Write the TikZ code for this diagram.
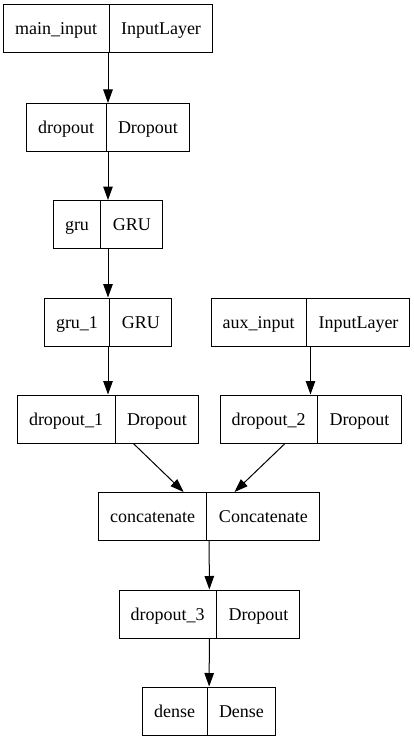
\documentclass[tikz,border=0pt]{standalone}
\usepackage{fontspec}
\setmainfont{Liberation Serif}
\usetikzlibrary{shapes.multipart,arrows.meta}
\newcommand{\lstrut}{\rule[-4pt]{0pt}{20pt}}
\newcommand{\lyr}[2]{\lstrut#1\nodepart{two}\lstrut#2}
\begin{document}
\begin{tikzpicture}[x=1pt,y=-1pt,
  layer/.style={draw=black, line width=1pt, rectangle split, rectangle split horizontal,
    rectangle split parts=2, inner xsep=11.5pt, inner ysep=14pt,
    font=\fontsize{18}{20}\selectfont},
  edge/.style={draw=black, line width=1pt, -{Triangle[length=13.5pt,width=9.5pt]}}]
\useasboundingbox (0,0) rectangle (413,741);
\node[layer] (mi) at (108,29) {\lyr{main\_input}{InputLayer}};
\node[layer] (d0) at (108,127.5) {\lyr{dropout}{Dropout}};
\node[layer] (g0) at (108,224.5) {\lyr{gru}{GRU}};
\node[layer] (g1) at (108,322) {\lyr{gru\_1}{GRU}};
\node[layer] (ai) at (310.5,322) {\lyr{aux\_input}{InputLayer}};
\node[layer] (d1) at (108,419) {\lyr{dropout\_1}{Dropout}};
\node[layer] (d2) at (310.5,419) {\lyr{dropout\_2}{Dropout}};
\node[layer] (cc) at (209,516.5) {\lyr{concatenate}{Concatenate}};
\node[layer] (d3) at (209.5,614) {\lyr{dropout\_3}{Dropout}};
\node[layer] (de) at (209,711) {\lyr{dense}{Dense}};
\draw[edge] (mi) -- (d0);
\draw[edge] (d0) -- (g0);
\draw[edge] (g0) -- (g1);
\draw[edge] (g1) -- (d1);
\draw[edge] (ai) -- (d2);
\draw[edge] (d1) -- (cc);
\draw[edge] (d2) -- (cc);
\draw[edge] (cc) -- (d3);
\draw[edge] (d3) -- (de);
\end{tikzpicture}
\end{document}
